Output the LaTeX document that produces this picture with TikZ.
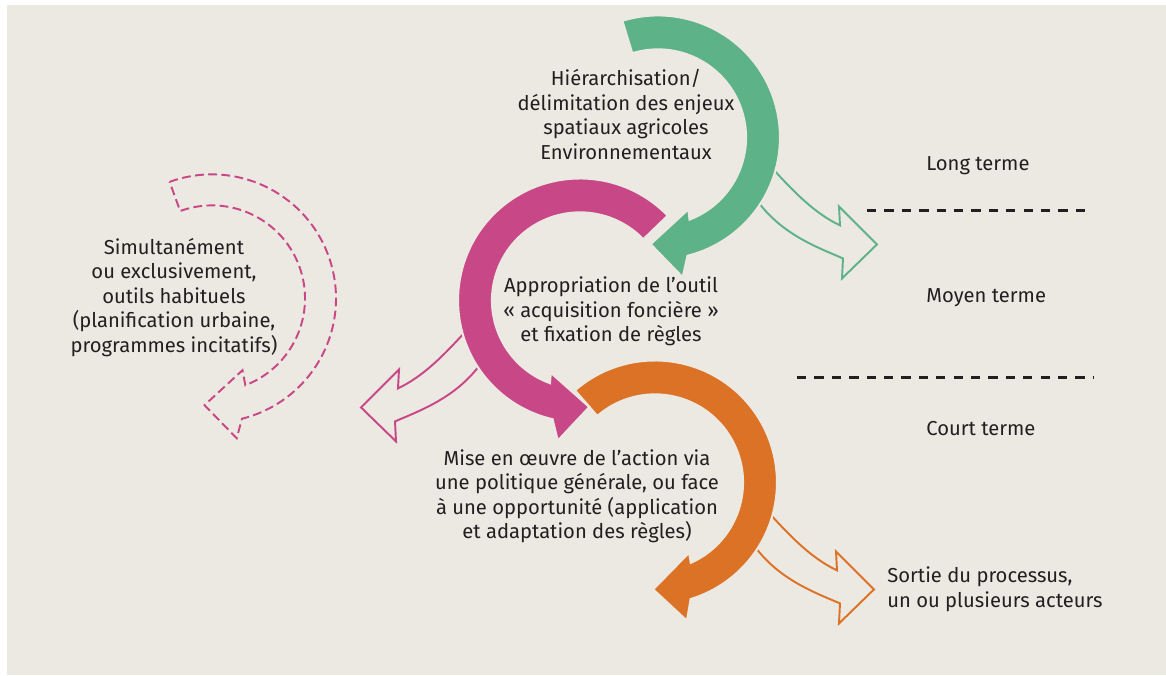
\documentclass[tikz,border=0pt]{standalone}
\usepackage{fontspec}
\setmainfont{Fira Sans}

\definecolor{paper}{RGB}{236,232,226}
\definecolor{longg}{RGB}{94,178,136}
\definecolor{midm}{RGB}{200,72,135}
\definecolor{shorto}{RGB}{220,114,38}
\definecolor{ink}{RGB}{35,31,32}

\begin{document}
\begin{tikzpicture}[x=0.02cm,y=0.02cm,
    band/.style={draw=paper,line width=1.2pt},
    hollow/.style={line width=1.1pt,line join=miter},
    lbl/.style={font=\fontsize{11.5}{13.9}\selectfont,text=ink,align=center,inner sep=0pt},
    term/.style={font=\fontsize{11.5}{13.9}\selectfont,text=ink,anchor=west,inner sep=0pt},
    sep/.style={ink,line width=1.5pt,dash pattern=on 5.3pt off 4.6pt}]
      \fill[white] (0,0) rectangle (1166,670);
      \fill[paper] (7,0) rectangle (1166,670);

      % outlet arrows, behind the bands
      \begin{scope}[shift={(658,538)}]
        \draw[hollow,longg] (-14:115) .. controls (137,-56) and (157,-76) .. (182,-88)
          -- (181,-69) -- (219,-107) -- (184,-141) -- (185,-121)
          .. controls (157,-109) and (122,-96) .. (-32:115);
      \end{scope}
      \begin{scope}[shift={(655,193)}]
        \draw[hollow,shorto] (-14:115) .. controls (137,-56) and (157,-76) .. (182,-88)
          -- (181,-69) -- (219,-107) -- (184,-141) -- (185,-121)
          .. controls (157,-109) and (122,-96) .. (-32:115);
      \end{scope}
      \begin{scope}[shift={(580,375)},xscale=-1]
        \draw[hollow,midm] (-14:115) .. controls (137,-56) and (157,-76) .. (182,-88)
          -- (181,-69) -- (219,-107) -- (184,-141) -- (185,-121)
          .. controls (157,-109) and (122,-96) .. (-32:115);
      \end{scope}

      % the three turning arrows
      \begin{scope}[shift={(655,193)}]
        \filldraw[band,fill=shorto] (131:122) arc[start angle=131,end angle=-73,radius=122]
          -- (-77:142) -- (-91:107) -- (-64:78) -- (-66:88)
          arc[start angle=-66,end angle=131,radius=88] -- cycle;
      \end{scope}
      \begin{scope}[shift={(580,375)},xscale=-1]
        \filldraw[band,fill=midm] (136:122) arc[start angle=136,end angle=-77,radius=122]
          -- (-81:142) -- (-95:107) -- (-68:78) -- (-70:88)
          arc[start angle=-70,end angle=136,radius=88] -- cycle;
      \end{scope}
      \begin{scope}[shift={(658,538)}]
        \filldraw[band,fill=longg] (107:122) arc[start angle=107,end angle=-76,radius=122]
          -- (-80:142) -- (-94:107) -- (-67:78) -- (-69:88)
          arc[start angle=-69,end angle=107,radius=88] -- cycle;
      \end{scope}

      % other tools, dashed
      \begin{scope}[shift={(212,377)}]
        \draw[midm,line width=1.1pt,dash pattern=on 5pt off 2.5pt]
          (110:124) arc[start angle=110,end angle=-76,radius=124]
          -- (-80:142) -- (-94:107) -- (-67:78) -- (-69:93)
          arc[start angle=-69,end angle=110,radius=93] -- cycle;
      \end{scope}

      \node[lbl] (enjeux) at (626,561) {Hiérarchisation/\\délimitation des enjeux\\spatiaux agricoles\\Environnementaux};
      \node[lbl] (outil) at (611,364) {Appropriation de l’outil\\«~acquisition foncière~»\\et fixation de règles};
      \node[lbl] (action) at (577,179) {Mise en œuvre de l’action via\\une politique générale, ou face\\à une opportunité (application\\et adaptation des règles)};
      \node[lbl] (habituels) at (174,378) {Simultanément\\ou exclusivement,\\outils habituels\\(planification urbaine,\\programmes incitatifs)};
      \node[term,align=left] (sortie) at (887,86) {Sortie du processus,\\un ou plusieurs acteurs};

      \node[term] (long) at (926,510) {Long terme};
      \node[term] (moyen) at (926,378) {Moyen terme};
      \node[term] (court) at (926,247) {Court terme};

      \coordinate (s1a) at (867,465);
      \coordinate (s1b) at (1093,465);
      \coordinate (s2a) at (797,298);
      \coordinate (s2b) at (1093,298);
      \draw[sep] (s1a) -- (s1b);
      \draw[sep] (s2a) -- (s2b);
    \end{tikzpicture}
\end{document}
